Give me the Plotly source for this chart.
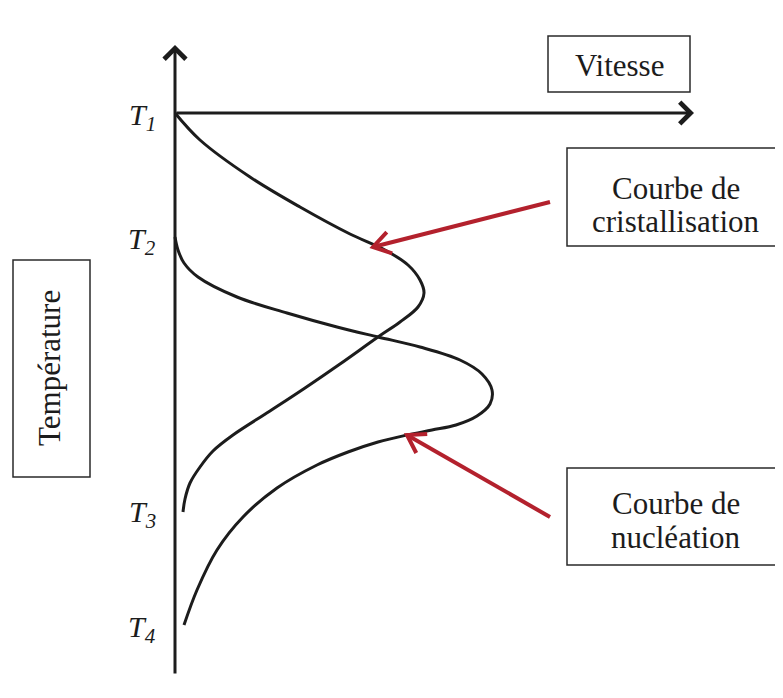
import math
import plotly.graph_objects as go

# coordonnées du schéma (unités de dessin, y vers le bas)
origin_v = 175
axis_top, axis_bottom = 45, 675
vitesse_end = 694

T_labels = ["T<sub>1</sub>", "T<sub>2</sub>", "T<sub>3</sub>", "T<sub>4</sub>"]
T_levels = [113, 237, 510, 625]

# courbe de cristallisation (de T1 à T3)
crist_v = [175, 200, 250, 300, 350, 385, 408, 420, 424, 418, 400, 378, 340, 305, 270, 233, 213, 200, 190, 185, 183]
crist_t = [113, 140, 177, 207, 234, 250, 265, 280, 293, 307, 322, 337, 364, 388, 411, 435, 451, 467, 483, 499, 512]

# courbe de nucléation (de T2 à T4)
nucl_v = [175, 178, 184, 198, 237, 287, 337, 378, 420, 460, 482, 492, 490, 477, 456, 432, 407, 378, 348, 317, 277, 243, 217, 197, 184]
nucl_t = [237, 250, 263, 277, 297, 313, 327, 337, 347, 360, 374, 390, 404, 416, 425, 430, 435, 442, 452, 465, 488, 517, 550, 590, 625]

# flèches rouges : (départ v, départ t, pointe v, pointe t)
red_arrows = [(550, 202, 373, 247), (550, 517, 407, 435)]

# boîtes : (gauche, haut, droite, bas)
box_vitesse = (548, 36, 690, 92)
box_crist = (567, 148, 779, 246)
box_nucl = (567, 468, 779, 565)
box_temp = (13, 260, 90, 477)

# textes : (texte, x, y, angle)
box_texts = [
    ("Vitesse", 619, 65, 0),
    ("Courbe de", 676, 188, 0),
    ("cristallisation", 676, 221, 0),
    ("Courbe de", 676, 503, 0),
    ("nucléation", 676, 537, 0),
    ("Température", 49, 368, -90),
]

ink = "#1c1c1c"
red = "#b3212d"
serif = "Liberation Serif, Times New Roman, serif"

fig = go.Figure()
fig.add_trace(go.Scatter(x=crist_v, y=crist_t, mode="lines",
                         line=dict(color=ink, width=3, shape="spline", smoothing=1),
                         hoverinfo="skip"))
fig.add_trace(go.Scatter(x=nucl_v, y=nucl_t, mode="lines",
                         line=dict(color=ink, width=3, shape="spline", smoothing=1),
                         hoverinfo="skip"))

# flèches rouges : tige + pointe en V
head_len, head_half = 17, 11
for v0, t0, v1, t1 in red_arrows:
    d = math.hypot(v1 - v0, t1 - t0)
    ux, uy = (v1 - v0) / d, (t1 - t0) / d
    nx, ny = -uy, ux
    bx, by = v1 - head_len * ux, t1 - head_len * uy
    fig.add_trace(go.Scatter(x=[v0, v1], y=[t0, t1], mode="lines",
                             line=dict(color=red, width=4), hoverinfo="skip"))
    fig.add_trace(go.Scatter(x=[bx + head_half * nx, v1, bx - head_half * nx],
                             y=[by + head_half * ny, t1, by - head_half * ny],
                             mode="lines", line=dict(color=red, width=4), hoverinfo="skip"))

annotations = []
# axe des températures (vertical) et axe des vitesses (horizontal)
annotations.append(dict(x=origin_v, y=axis_top, ax=origin_v, ay=axis_bottom,
                        xref="x", yref="y", axref="x", ayref="y", text="",
                        showarrow=True, arrowhead=4, arrowsize=1.4, arrowwidth=3,
                        arrowcolor=ink, standoff=0))
annotations.append(dict(x=vitesse_end, y=T_levels[0], ax=origin_v, ay=T_levels[0],
                        xref="x", yref="y", axref="x", ayref="y", text="",
                        showarrow=True, arrowhead=4, arrowsize=1.4, arrowwidth=3,
                        arrowcolor=ink, standoff=0))

for lab, lev in zip(T_labels, T_levels):
    annotations.append(dict(x=158, y=lev + 4, xref="x", yref="y", text="<i>" + lab + "</i>",
                            showarrow=False, xanchor="right", yanchor="middle",
                            font=dict(family=serif, size=30, color=ink)))

shapes = []
for x0, y0, x1, y1 in [box_vitesse, box_crist, box_nucl, box_temp]:
    shapes.append(dict(type="rect", xref="x", yref="y", x0=x0, y0=y0, x1=x1, y1=y1,
                       line=dict(color="#2a2a2a", width=1.5), fillcolor="white", layer="below"))
for txt, x, y, rot in box_texts:
    annotations.append(dict(x=x, y=y, xref="x", yref="y", text=txt,
                            showarrow=False, textangle=rot, xanchor="center", yanchor="middle",
                            font=dict(family=serif, size=31, color=ink)))

# la page ajoute une marge de 8 px autour de la figure
fig.update_layout(
    width=775, height=690,
    margin=dict(l=0, r=0, t=0, b=0),
    paper_bgcolor="white", plot_bgcolor="white",
    showlegend=False,
    xaxis=dict(range=[8, 783], visible=False, fixedrange=True),
    yaxis=dict(range=[698, 8], visible=False, fixedrange=True),
    shapes=shapes,
    annotations=annotations,
)

fig.write_html("out.html")
